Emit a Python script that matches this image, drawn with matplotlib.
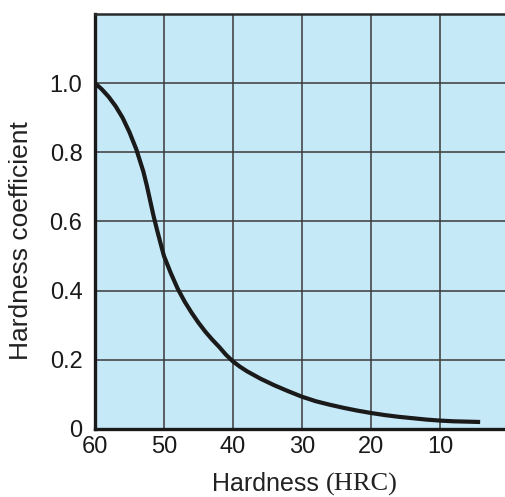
import matplotlib
matplotlib.use("Agg")
import matplotlib.pyplot as plt

# curve (hardness HRC -> coefficient)
hrc = [60, 59, 58, 57, 56, 55, 54, 53, 52.5, 52, 51.5, 51, 50.5, 50, 49, 48,
       47, 46, 45, 44, 43, 42, 41, 40, 39, 38, 36, 34, 32, 30, 28, 26, 24,
       22, 20, 18, 16, 14, 12, 10, 8, 6, 4.2]
coef = [1.0, 0.982, 0.96, 0.933, 0.9, 0.858, 0.808, 0.745, 0.705, 0.66,
        0.615, 0.575, 0.537, 0.5, 0.45, 0.405, 0.368, 0.336, 0.307, 0.281,
        0.258, 0.237, 0.214, 0.195, 0.18, 0.167, 0.145, 0.126, 0.109, 0.093,
        0.08, 0.07, 0.061, 0.053, 0.046, 0.04, 0.035, 0.031, 0.027, 0.024,
        0.022, 0.021, 0.02]

x_ticks = [60, 50, 40, 30, 20, 10]
y_ticks = [0, 0.2, 0.4, 0.6, 0.8, 1.0, 1.2]
y_labels = ["0", "0.2", "0.4", "0.6", "0.8", "1.0", ""]

plt.rcParams["font.family"] = ["Liberation Sans", "DejaVu Sans"]

fig = plt.figure(figsize=(5.05, 4.97), dpi=100)
ax = fig.add_axes([0.188, 0.137, 0.812, 0.835])
ax.set_facecolor("#C6E9F8")

ax.plot(hrc, coef, color="#1a1a1a", lw=3.0, solid_capstyle="butt",
        solid_joinstyle="round", zorder=3)

ax.set_xlim(60, 0.6)
ax.set_ylim(0, 1.2)
ax.set_xticks(x_ticks)
ax.set_xticklabels([str(t) for t in x_ticks])
ax.set_yticks(y_ticks)
ax.set_yticklabels(y_labels)
ax.tick_params(length=0, labelsize=17, colors="#1a1a1a")
ax.tick_params(axis="x", pad=5)
ax.tick_params(axis="y", pad=9)
ax.grid(True, color="#3a3a3a", lw=1.1)

for side in ["left", "bottom"]:
    ax.spines[side].set_linewidth(2.4)
    ax.spines[side].set_color("#1a1a1a")
ax.spines["top"].set_linewidth(1.8)
ax.spines["top"].set_color("#2a2a2a")
ax.spines["right"].set_visible(False)

ax.set_ylabel("Hardness coefficient", fontsize=19, color="#222222")
ax.yaxis.set_label_coords(-0.152, 0.455)

# x label: sans for the word, serif for the unit
fig.text(0.632, 0.012, "Hardness", fontsize=18, ha="right", va="baseline",
         color="#222222")
fig.text(0.646, 0.012, "(HRC)", fontsize=19, ha="left", va="baseline",
         color="#222222", family=["Liberation Serif", "DejaVu Serif"])

plt.savefig("out.png", dpi=100)
plt.close()
